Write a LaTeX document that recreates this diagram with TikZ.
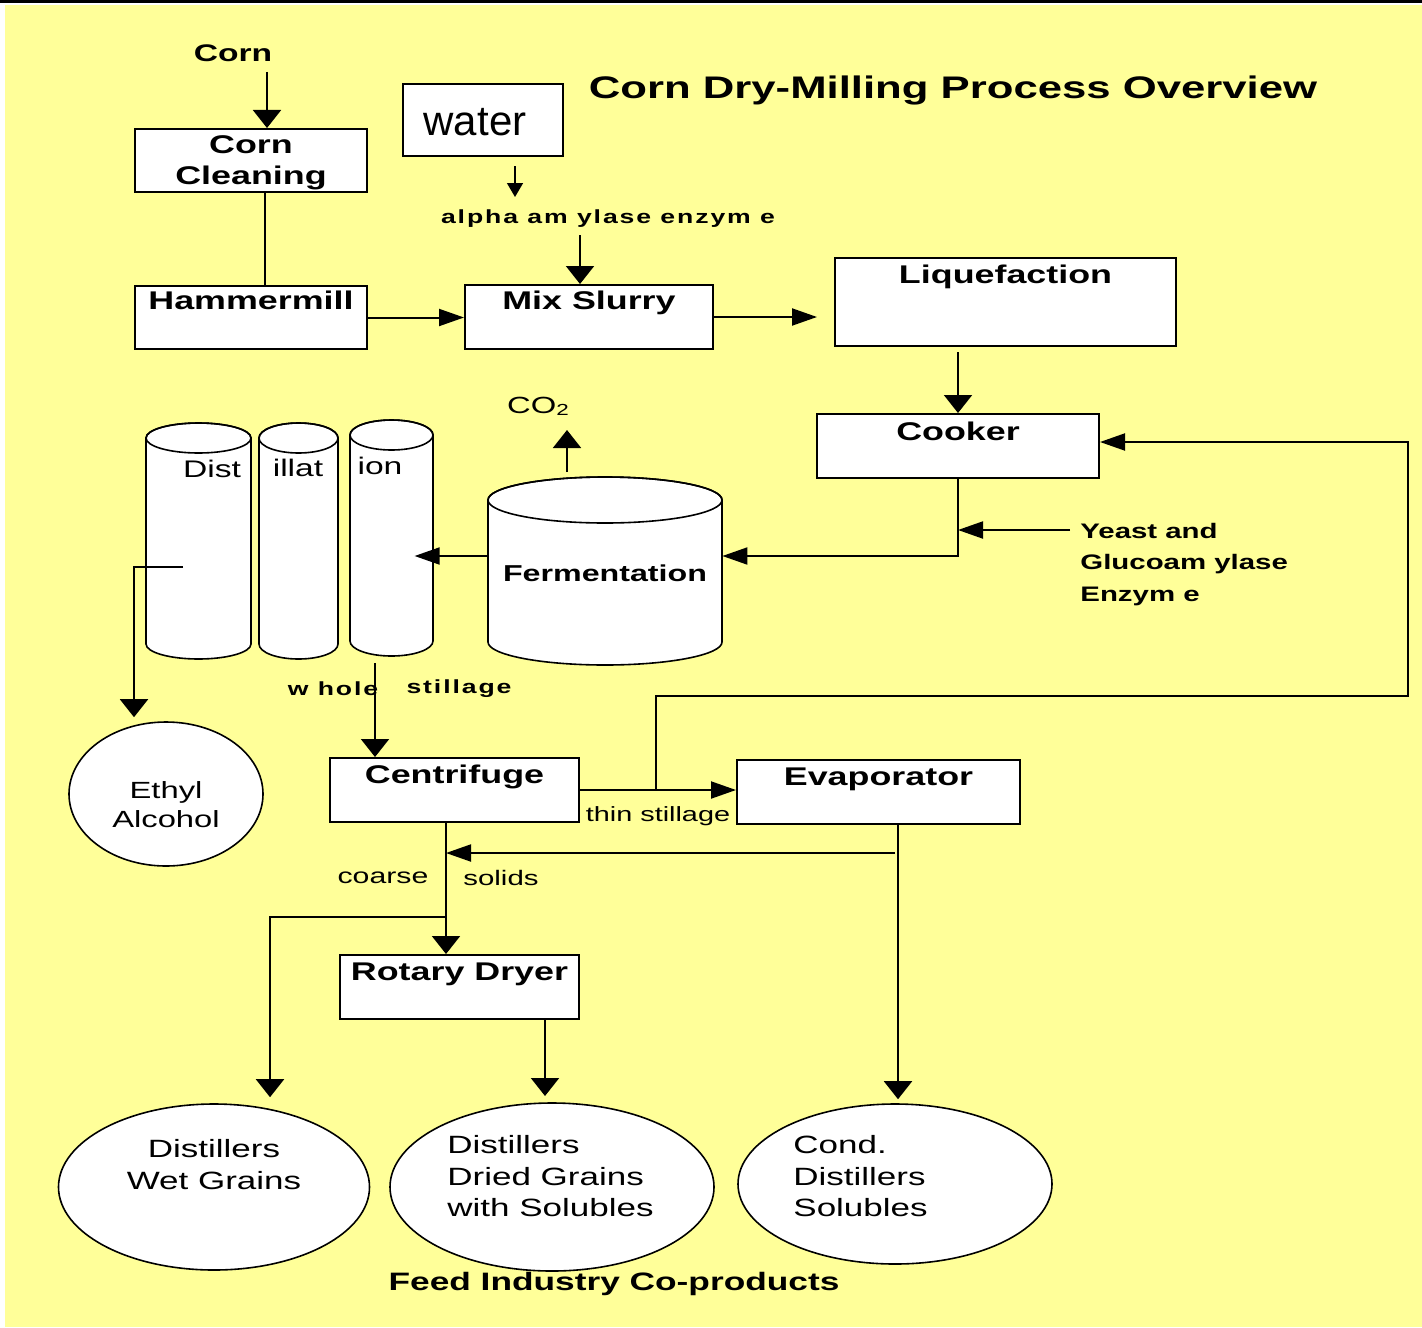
\documentclass[tikz,border=0pt]{standalone}
\usepackage{fontspec}
\setmainfont{Liberation Sans}
\newfontfamily\fW[FakeStretch=1.4]{Liberation Sans}
\newfontfamily\fWs[FakeStretch=1.4,LetterSpace=10]{Liberation Sans}
\usetikzlibrary{arrows.meta,calc,shapes.geometric}
\definecolor{bgyellow}{RGB}{255,255,153}
\newcommand\mycyl[5]{%
  \filldraw[fill=white,line width=0.8pt] (#1-#2,#3) -- (#1-#2,#4)
    arc[start angle=180,end angle=360,x radius={0.5pt*#2},y radius={0.5pt*#5}]
    -- (#1+#2,#3)
    arc[start angle=0,end angle=180,x radius={0.5pt*#2},y radius={0.5pt*#5}] -- cycle;
  \draw[line width=0.8pt] (#1,#3) ellipse [x radius={0.5pt*#2},y radius={0.5pt*#5}];
}
\begin{document}
\begin{tikzpicture}[x=0.5pt,y=-0.5pt,
  box/.style={draw=black,line width=1pt,fill=white,inner sep=0pt},
  oval/.style={ellipse,draw=black,line width=0.8pt,fill=white,inner sep=0pt},
  lbl/.style={inner sep=0pt},
  btxt/.style={font=\fW\bfseries\fontsize{12.8}{15.5}\selectfont},
  rtxt/.style={font=\fW\fontsize{12.5}{16}\selectfont},
  ah/.style={-{Triangle[length=12.5pt,width=8.5pt]}},
  av/.style={-{Triangle[length=9pt,width=14pt]}},
  ln/.style={line width=1pt},
]
\useasboundingbox (0,0) rectangle (1422,1327);
\fill[bgyellow] (5,5) rectangle (1422,1327);
\fill[black] (0,0) rectangle (1422,3);

% title and free labels
\node[lbl,font=\fW\bfseries\fontsize{15.6}{18}\selectfont] (title) at (953,91) {Corn Dry-Milling Process Overview};
\node[lbl,font=\fW\bfseries\fontsize{12}{14}\selectfont] (cornlbl) at (233,53) {Corn};
\node[lbl,font=\fWs\bfseries\fontsize{9.5}{11}\selectfont] (alpha) at (608,219) {alpha am ylase enzym e};
\node[lbl,font=\fW\fontsize{11.7}{14}\selectfont] (co2) at (538,406) {CO\raisebox{-0.15ex}{\fontsize{8}{9}\selectfont 2}};
\node[lbl,anchor=west,align=left,font=\fW\bfseries\fontsize{10.5}{15.75}\selectfont] (yeast) at (1080,564.5) {Yeast and\\Glucoam ylase\\Enzym e};
\node[lbl,font=\fWs\bfseries\fontsize{9.5}{11}\selectfont] (whole) at (333,689) {w hole};
\node[lbl,font=\fWs\bfseries\fontsize{9.5}{11}\selectfont] (still) at (459,689) {stillage};
\node[lbl,font=\fW\fontsize{10.3}{13}\selectfont] (thin) at (658,816) {thin stillage};
\node[lbl,font=\fW\fontsize{10.8}{13}\selectfont] (coarse) at (383,878) {coarse};
\node[lbl,font=\fW\fontsize{10.5}{13}\selectfont] (solids) at (501,878) {solids};
\node[lbl,font=\fW\bfseries\fontsize{12.6}{15}\selectfont] (feed) at (614,1284) {Feed Industry Co-products};

% boxes
\node[box,btxt,align=center,minimum width=116pt,minimum height=31.5pt] (cclean) at (251,160.5) {\strut Corn\\Cleaning};
\node[box,minimum width=116pt,minimum height=31.5pt,label={[lbl,btxt,anchor=north,yshift=-3pt]north:Hammermill}] (hammer) at (251,317.5) {};
\node[box,minimum width=80pt,minimum height=36pt] (water) at (483,120) {};
\node[lbl,font=\fontsize{21}{24}\selectfont] (watert) at (475,122) {water};
\node[box,minimum width=124pt,minimum height=32pt,label={[lbl,btxt,anchor=north,yshift=-3.5pt]north:Mix Slurry}] (mix) at (589,317) {};
\node[box,minimum width=170.5pt,minimum height=44pt,label={[lbl,btxt,anchor=north,yshift=-4pt]north:Liquefaction}] (liq) at (1005.5,302) {};
\node[box,minimum width=141pt,minimum height=32pt,label={[lbl,btxt,anchor=north,yshift=-4.5pt]north:Cooker}] (cooker) at (958,446) {};
\node[box,minimum width=124.5pt,minimum height=32pt,label={[lbl,btxt,anchor=north,yshift=-4pt]north:Centrifuge}] (centri) at (454.5,790) {};
\node[box,minimum width=141.5pt,minimum height=32pt,label={[lbl,btxt,anchor=north,yshift=-4pt]north:Evaporator}] (evap) at (878.5,792) {};
\node[box,minimum width=119.5pt,minimum height=32pt,label={[lbl,btxt,anchor=north,yshift=-4pt]north:Rotary Dryer}] (dryer) at (459.5,987) {};

% cylinders
\mycyl{198.5}{52.5}{438}{644}{15}
\mycyl{298.5}{39.5}{438}{644}{15}
\mycyl{391.5}{41.5}{435}{641}{15}
\mycyl{605}{117}{500}{642}{23}
\node[lbl,minimum width=52.5pt,minimum height=103pt] (col1) at (198.5,541) {};
\node[lbl,minimum width=39.5pt,minimum height=103pt] (col2) at (298.5,541) {};
\node[lbl,minimum width=41.5pt,minimum height=103pt] (col3) at (391.5,538) {};
\node[lbl,font=\fW\fontsize{12}{14}\selectfont] (dist1) at (212,469) {Dist};
\node[lbl,font=\fW\fontsize{12}{14}\selectfont] (dist2) at (298,468) {illat};
\node[lbl,font=\fW\fontsize{12}{14}\selectfont] (dist3) at (380,466) {ion};
\node[lbl,minimum width=117pt,minimum height=71pt,font=\fW\bfseries\fontsize{11.5}{13}\selectfont] (ferm) at (605,573) {Fermentation};

% ellipses
\node[oval,minimum width=97pt,minimum height=72pt] (ethyl) at (166,794) {};
\node[lbl,align=center,font=\fW\fontsize{11.7}{14.5}\selectfont] (ethylt) at (166,805) {Ethyl\\Alcohol};
\node[oval,minimum width=155.5pt,minimum height=83pt] (dwg) at (214,1187) {};
\node[lbl,rtxt,align=center] (dwgt) at (214,1165) {Distillers\\Wet Grains};
\node[oval,minimum width=162pt,minimum height=84pt] (ddgs) at (552,1187) {};
\node[lbl,align=left,anchor=west,font=\fW\fontsize{12.5}{15.75}\selectfont] (ddgst) at (447,1176.5) {Distillers\\Dried Grains\\with Solubles};
\node[oval,minimum width=157pt,minimum height=80pt] (cds) at (895,1184) {};
\node[lbl,align=left,anchor=west,font=\fW\fontsize{12.5}{15.75}\selectfont] (cdst) at (793,1176.5) {Cond.\\Distillers\\Solubles};

% connectors
\coordinate (cornA) at (267,72);
\draw[ln,av] (cornA) -- (cclean.north -| cornA);
\draw[ln] ([xshift=7pt]cclean.south) -- ([xshift=7pt]hammer.north);
\draw[ln,ah] (hammer.east) -- (hammer.east -| mix.west);
\draw[line width=0.75pt,-{Triangle[length=7pt,width=8pt]}] ([xshift=16pt,yshift=-4.5pt]water.south) -- ++(0,31);
\coordinate (alA) at (580,235);
\draw[ln,av] (alA) -- (mix.north -| alA);
\draw[ln,ah] (mix.east) -- ($(liq.west |- mix.east)+(-17,0)$);
\draw[ln,av] ($(liq.south -| cooker.north)+(0,5)$) -- (cooker.north);
\coordinate (fbA) at (656,696);
\coordinate (fbB) at (1408,442);
\draw[ln,ah] (centri.east -| fbA) -- (fbA) -| (fbB) -- (cooker.east |- fbB);
\coordinate (ck) at (958,556);
\draw[ln,ah] (cooker.south) -- (ck) -- (ferm.east |- ck);
\coordinate (yk) at (1070,530);
\draw[ln,ah] (yk) -- (cooker.south |- yk);
\coordinate (co2s) at (567,472);
\draw[ln,av] (co2s) -- ++(0,-42);
\draw[ln,ah] (ferm.west |- ck) -- ++(-73,0);
\coordinate (d1) at (183,567);
\draw[ln,av] (d1) -| ([xshift=-16pt,yshift=2pt]ethyl.north);
\coordinate (ws) at (375,663);
\draw[ln,av] (ws) -- (centri.north -| ws);
\draw[ln,ah] (centri.east) -- (evap.west |- centri.east);
\coordinate (evx) at (898,853);
\draw[ln,av] (evap.south -| evx) -- ($(cds.north -| evx)+(0,-4)$);
\coordinate (cs) at (446,917);
\draw[ln] (centri.south -| cs) -- (cs);
\draw[ln,av] (cs) -- (dryer.north -| cs);
\draw[ln,ah] ($(evx)+(-3,0)$) -- (cs |- evx);
\draw[ln,av] (cs) -| ([xshift=28pt,yshift=3pt]dwg.north);
\draw[ln,av] ([xshift=42.75pt]dryer.south) -- ++(0,76);
\end{tikzpicture}
\end{document}
